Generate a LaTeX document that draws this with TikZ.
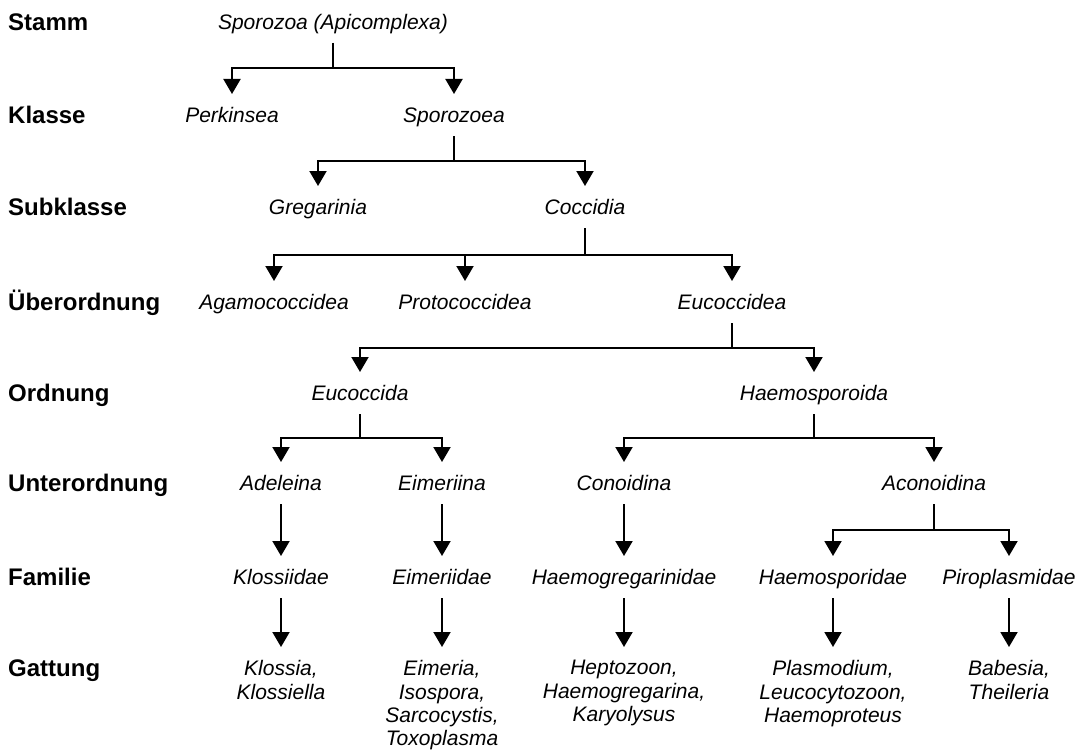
\documentclass[tikz,border=0pt]{standalone}
\usepackage{fontspec}
\setmainfont{Liberation Sans}
\usetikzlibrary{arrows.meta,calc}
\newcommand\forkto[2]{\draw[link] let \p1=(#1.south), \p2=(#2.north) in (\p1) -- (\x1,{(\y1+\y2)/2}) -| (\p2);}
\newcommand\straightto[2]{\draw[link] (#1.south) -- (#2.north);}
\begin{document}
\begin{tikzpicture}[x=1pt,y=-1pt,
  rank/.style={anchor=west,inner sep=0pt,text height=17pt,text depth=0pt,font=\fontsize{24}{28}\selectfont\bfseries},
  taxon/.style={inner sep=0pt,outer xsep=0pt,outer ysep=13.5pt,text height=15pt,text depth=0pt,font=\fontsize{21}{24}\selectfont\itshape},
  genus/.style={anchor=north,align=center,inner sep=0pt,outer xsep=0pt,outer ysep=13.5pt,font=\fontsize{21}{23.3}\selectfont\itshape},
  link/.style={line width=2pt,-{Triangle[width=17pt,length=15pt]}}
]
\useasboundingbox (0,0) rectangle (1078,749);

% rank labels
\node[rank] (lStamm) at (8,22) {Stamm};
\node[rank] (lKlasse) at (8,115) {Klasse};
\node[rank] (lSub) at (8,207) {Subklasse};
\node[rank] (lUeber) at (8,302) {Überordnung};
\node[rank] (lOrd) at (8,393) {Ordnung};
\node[rank] (lUnter) at (8,483) {Unterordnung};
\node[rank] (lFam) at (8,577) {Familie};
\node[rank] (lGatt) at (8,668) {Gattung};

% taxa
\node[taxon] (spz) at (333,22) {Sporozoa (Apicomplexa)};
\node[taxon] (perk) at (232,115) {Perkinsea};
\node[taxon] (spzea) at (454,115) {Sporozoea};
\node[taxon] (greg) at (318,207) {Gregarinia};
\node[taxon] (cocc) at (585,207) {Coccidia};
\node[taxon] (agam) at (274,302) {Agamococcidea};
\node[taxon] (proto) at (465,302) {Protococcidea};
\node[taxon] (eucea) at (732,302) {Eucoccidea};
\node[taxon] (eucda) at (360,393) {Eucoccida};
\node[taxon] (haemo) at (814,393) {Haemosporoida};
\node[taxon] (adel) at (281,483) {Adeleina};
\node[taxon] (eimna) at (442,483) {Eimeriina};
\node[taxon] (cono) at (624,483) {Conoidina};
\node[taxon] (acono) at (934,483) {Aconoidina};
\node[taxon] (kloss) at (281,577) {Klossiidae};
\node[taxon] (eimdae) at (442,577) {Eimeriidae};
\node[taxon] (hgreg) at (624,577) {Haemogregarinidae};
\node[taxon] (hspor) at (833,577) {Haemosporidae};
\node[taxon] (piro) at (1009,577) {Piroplasmidae};

% genera
\node[genus] (g1) at (281,647) {Klossia,\\Klossiella};
\node[genus] (g2) at (442,647) {Eimeria,\\Isospora,\\Sarcocystis,\\Toxoplasma};
\node[genus] (g3) at (624,647) {Heptozoon,\\Haemogregarina,\\Karyolysus};
\node[genus] (g4) at (833,647) {Plasmodium,\\Leucocytozoon,\\Haemoproteus};
\node[genus] (g5) at (1009,647) {Babesia,\\Theileria};

% connectors
\forkto{spz}{perk}
\forkto{spz}{spzea}
\forkto{spzea}{greg}
\forkto{spzea}{cocc}
\forkto{cocc}{agam}
\forkto{cocc}{proto}
\forkto{cocc}{eucea}
\forkto{eucea}{eucda}
\forkto{eucea}{haemo}
\forkto{eucda}{adel}
\forkto{eucda}{eimna}
\forkto{haemo}{cono}
\forkto{haemo}{acono}
\forkto{acono}{hspor}
\forkto{acono}{piro}
\straightto{adel}{kloss}
\straightto{eimna}{eimdae}
\straightto{cono}{hgreg}
\straightto{kloss}{g1}
\straightto{eimdae}{g2}
\straightto{hgreg}{g3}
\straightto{hspor}{g4}
\straightto{piro}{g5}
\end{tikzpicture}
\end{document}
